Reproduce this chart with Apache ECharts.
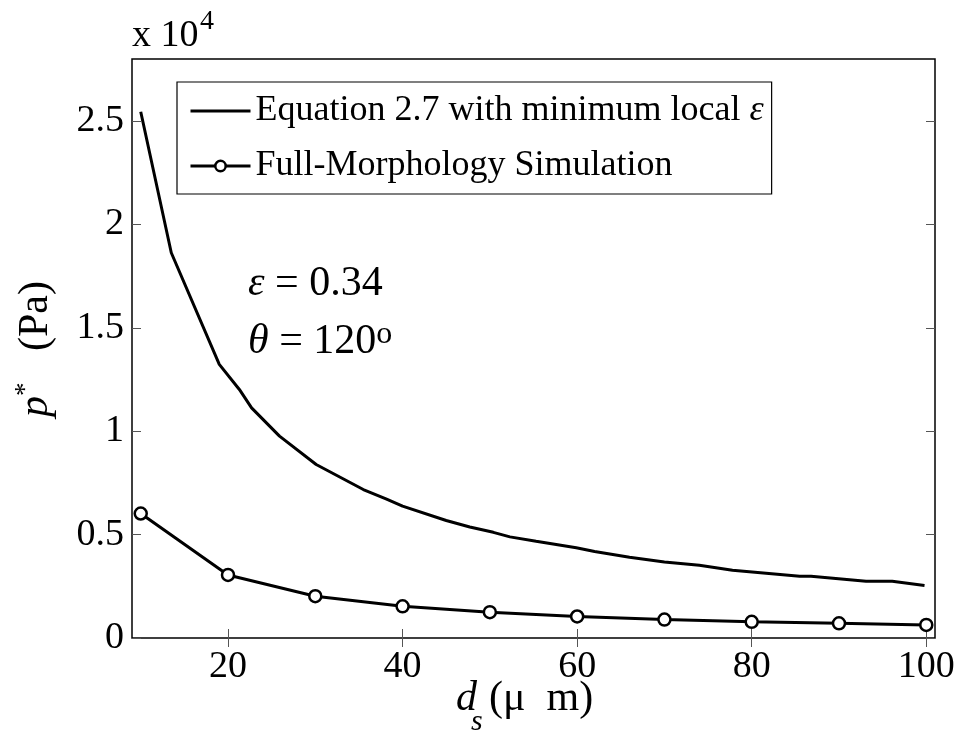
<!DOCTYPE html>
<html>
<head>
<meta charset="utf-8">
<script src="https://cdn.jsdelivr.net/npm/echarts@6/dist/echarts.min.js"></script>
<style>
html,body{margin:0;padding:0;background:#fff;}
#chart{width:961px;height:736px;}
</style>
</head>
<body>
<div id="chart"></div>
<script>
// ---- data ----
const xTicks = [20, 40, 60, 80, 100];
const yTicks = [0, 5000, 10000, 15000, 20000, 25000];
const yTickLabels = ['0', '0.5', '1', '1.5', '2', '2.5'];

const eqX = [10, 13.5, 19, 21.3, 22.7, 25.9, 30.1, 35.5, 38.1, 40, 45, 47.7, 50.4, 52.3, 55.3, 59.9, 62, 66, 70, 74, 77.8, 85.5, 86.8, 93.1, 96.1, 99.8];
const eqY = [25450, 18630, 13230, 12020, 11130, 9760, 8390, 7180, 6730, 6380, 5680, 5370, 5110, 4890, 4680, 4360, 4180, 3900, 3680, 3520, 3280, 2990, 2990, 2740, 2740, 2540];

const simX = [10, 20, 30, 40, 50, 60, 70, 80, 90, 100];
const simY = [6020, 3050, 2020, 1530, 1250, 1040, 890, 780, 710, 630];

const seriesNames = ['Equation 2.7 with minimum local ε', 'Full-Morphology Simulation'];

const FONT = '"Liberation Serif", "Times New Roman", serif';
const chart = echarts.init(document.getElementById('chart'), null, {renderer: 'canvas'});

const tickStyle = {show: true, inside: true, length: 9, lineStyle: {color: '#555', width: 1}};

function txt(t, size, italic) {
  return {fontFamily: FONT, fontSize: size, fontStyle: italic ? 'italic' : 'normal', fill: '#000', text: t};
}

const option = {
  backgroundColor: '#fff',
  animation: false,
  grid: {left: 132, right: 26, top: 59, bottom: 98, show: true, borderColor: '#000', borderWidth: 1.5, backgroundColor: 'transparent'},
  xAxis: [
    {type: 'value', min: 9, max: 101, position: 'bottom',
     splitLine: {show: false}, axisLine: {show: false},
     axisTick: Object.assign({customValues: xTicks}, tickStyle),
     axisLabel: {customValues: xTicks, color: '#000', fontFamily: FONT, fontSize: 38, margin: 10}},
    {type: 'value', min: 9, max: 101, position: 'top',
     splitLine: {show: false}, axisLine: {show: false},
     axisTick: Object.assign({customValues: xTicks}, tickStyle),
     axisLabel: {show: false}}
  ],
  yAxis: [
    {type: 'value', min: 0, max: 28000, position: 'left',
     splitLine: {show: false}, axisLine: {show: false},
     axisTick: Object.assign({customValues: yTicks}, tickStyle),
     axisLabel: {customValues: yTicks, color: '#000', fontFamily: FONT, fontSize: 38, margin: 8,
       formatter: function (v) { const i = yTicks.indexOf(v); return i >= 0 ? yTickLabels[i] : ''; }}},
    {type: 'value', min: 0, max: 28000, position: 'right',
     splitLine: {show: false}, axisLine: {show: false},
     axisTick: Object.assign({customValues: yTicks}, tickStyle),
     axisLabel: {show: false}}
  ],
  legend: {
    orient: 'vertical', left: 177, top: 82,
    padding: [7, 8, 6, 12], itemGap: 11, itemWidth: 60, itemHeight: 13,
    backgroundColor: '#fff', borderColor: '#000', borderWidth: 1.2, borderRadius: 0,
    lineStyle: {width: 3, color: '#000'},
    data: [
      {name: seriesNames[0], itemStyle: {opacity: 0}},
      {name: seriesNames[1], itemStyle: {color: '#fff', borderColor: '#000', borderWidth: 2.5}}
    ],
    textStyle: {color: '#000', fontFamily: FONT, fontSize: 36, lineHeight: 44,
      rich: {n: {fontFamily: FONT, fontSize: 36, color: '#000', lineHeight: 44},
             i: {fontFamily: FONT, fontSize: 36, fontStyle: 'italic', color: '#000', lineHeight: 44}}},
    formatter: function (name) {
      if (name === seriesNames[0]) return '{n|Equation 2.7 with minimum local }{i|ε}';
      return '{n|' + name + '}';
    }
  },
  series: [
    {name: seriesNames[0], type: 'line', xAxisIndex: 0, yAxisIndex: 0,
     data: eqX.map((x, i) => [x, eqY[i]]), symbol: 'none', smooth: false,
     lineStyle: {color: '#000', width: 3}, itemStyle: {color: '#000'}},
    {name: seriesNames[1], type: 'line', xAxisIndex: 0, yAxisIndex: 0,
     data: simX.map((x, i) => [x, simY[i]]), symbol: 'circle', symbolSize: 12, showSymbol: true,
     lineStyle: {color: '#000', width: 3},
     itemStyle: {color: '#fff', borderColor: '#000', borderWidth: 2.5}}
  ],
  graphic: [
    // "x 10^4" exponent label
    {type: 'text', x: 132, y: 55, style: Object.assign(txt('x 10', 38, false), {verticalAlign: 'bottom'})},
    {type: 'text', x: 200, y: 36, style: Object.assign(txt('4', 28, false), {verticalAlign: 'bottom'})},
    // annotations
    {type: 'text', x: 248, y: 284, style: {
      text: '{i|ε}{n| = 0.34}', fill: '#000', verticalAlign: 'middle',
      rich: {n: {fontFamily: FONT, fontSize: 42, lineHeight: 46, fill: '#000'},
             i: {fontFamily: FONT, fontSize: 42, fontStyle: 'italic', lineHeight: 46, fill: '#000'}}}},
    {type: 'text', x: 248, y: 342, style: {
      text: '{i|θ}{n| = 120}{s|o}', fill: '#000', verticalAlign: 'middle',
      rich: {n: {fontFamily: FONT, fontSize: 42, lineHeight: 46, fill: '#000'},
             i: {fontFamily: FONT, fontSize: 42, fontStyle: 'italic', lineHeight: 46, fill: '#000'},
             s: {fontFamily: FONT, fontSize: 32, lineHeight: 26, verticalAlign: 'top', fill: '#000'}}}},
    // y axis name
    {type: 'text', x: 36, y: 349, rotation: Math.PI / 2, style: {
      text: '{i|p}{s|*}{n| \u2002(Pa)}', fill: '#000', align: 'center', verticalAlign: 'middle',
      rich: {n: {fontFamily: FONT, fontSize: 42, lineHeight: 48, fill: '#000'},
             i: {fontFamily: FONT, fontSize: 42, fontStyle: 'italic', lineHeight: 48, fill: '#000'},
             s: {fontFamily: FONT, fontSize: 27, lineHeight: 26, verticalAlign: 'top', fill: '#000'}}}},
    // x axis name: d_s (μ m)
    {type: 'text', x: 456, y: 699, style: Object.assign(txt('d', 42, true), {verticalAlign: 'middle'})},
    {type: 'text', x: 471, y: 722, style: Object.assign(txt('s', 30, true), {verticalAlign: 'middle'})},
    {type: 'text', x: 489, y: 699, style: Object.assign(txt('(μ\u2002m)', 42, false), {verticalAlign: 'middle'})}
  ]
};
chart.setOption(option);
</script>
</body>
</html>
